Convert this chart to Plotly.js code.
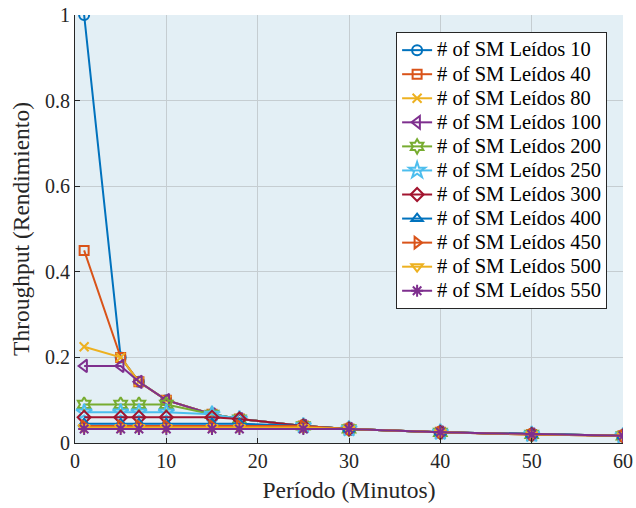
<!DOCTYPE html>
<html>
<head>
<meta charset="utf-8">
<script src="https://cdn.plot.ly/plotly-3.0.1.min.js"></script>
<style>
html,body{margin:0;padding:0;background:#fff;}
#chart{width:636px;height:508px;}
</style>
</head>
<body>
<div id="chart"></div>
<script>
// Period (minutes)
const periods = [1, 5, 7, 10, 15, 18, 25, 30, 40, 50, 60];
const seriesNames = ["# of SM Leídos 10", "# of SM Leídos 40", "# of SM Leídos 80", "# of SM Leídos 100",
  "# of SM Leídos 200", "# of SM Leídos 250", "# of SM Leídos 300", "# of SM Leídos 400",
  "# of SM Leídos 450", "# of SM Leídos 500", "# of SM Leídos 550"];
const sm10  = [1.0,   0.2,   0.143, 0.1,   0.067, 0.056, 0.04,  0.033, 0.025, 0.02, 0.0167];
const sm40  = [0.45,  0.2,   0.143, 0.1,   0.067, 0.056, 0.04,  0.033, 0.025, 0.02, 0.0167];
const sm80  = [0.225, 0.2,   0.143, 0.1,   0.067, 0.056, 0.04,  0.033, 0.025, 0.02, 0.0167];
const sm100 = [0.18,  0.18,  0.143, 0.1,   0.067, 0.056, 0.04,  0.033, 0.025, 0.02, 0.0167];
const sm200 = [0.09,  0.09,  0.09,  0.09,  0.067, 0.056, 0.04,  0.033, 0.025, 0.02, 0.0167];
const sm250 = [0.072, 0.072, 0.072, 0.072, 0.067, 0.056, 0.04,  0.033, 0.025, 0.02, 0.0167];
const sm300 = [0.06,  0.06,  0.06,  0.06,  0.06,  0.056, 0.04,  0.033, 0.025, 0.02, 0.0167];
const sm400 = [0.045, 0.045, 0.045, 0.045, 0.045, 0.045, 0.04,  0.033, 0.025, 0.02, 0.0167];
const sm450 = [0.04,  0.04,  0.04,  0.04,  0.04,  0.04,  0.04,  0.033, 0.025, 0.02, 0.0167];
const sm500 = [0.036, 0.036, 0.036, 0.036, 0.036, 0.036, 0.036, 0.033, 0.025, 0.02, 0.0167];
const sm550 = [0.0327,0.0327,0.0327,0.0327,0.0327,0.0327,0.0327,0.0327,0.025, 0.02, 0.0167];
const seriesValues = [sm10, sm40, sm80, sm100, sm200, sm250, sm300, sm400, sm450, sm500, sm550];

const colors = ["#0072BD", "#D95319", "#EDB120", "#7E2F8E", "#77AC30", "#4DBEEE", "#A2142F",
  "#0072BD", "#D95319", "#EDB120", "#7E2F8E"];
const symbols = ["circle-open", "square-open", "x-thin-open", "triangle-left-open", "hexagram-open",
  "star-open", "diamond-open", "triangle-up-open", "triangle-right-open", "triangle-down-open", "asterisk-open"];
const sizes = [10, 9, 9, 11, 11, 12, 10, 10, 10, 10, 10];

const traces = seriesValues.map((v, i) => ({
  x: periods, y: v, type: "scatter", mode: "lines+markers",
  name: '<span style="font-size:20.5px">' + seriesNames[i] + '</span>',
  line: {color: colors[i], width: 2},
  marker: {symbol: symbols[i], size: sizes[i], color: colors[i], line: {color: colors[i], width: 2}}
}));

const FAM = "Liberation Serif";
const layout = {
  width: 636, height: 508,
  margin: {l: 75, r: 13, t: 15, b: 65},
  paper_bgcolor: "#ffffff", plot_bgcolor: "#E3EFF5",
  font: {family: FAM, size: 20, color: "#262626"},
  showlegend: true,
  legend: {x: 0.971, y: 0.960, xanchor: "right", yanchor: "top", bgcolor: "#ffffff",
    bordercolor: "#262626", borderwidth: 1, font: {family: FAM, size: 16.2, color: "#000"}},
  xaxis: {range: [0, 60], tickvals: [0, 10, 20, 30, 40, 50, 60], ticks: "inside", ticklen: 5,
    tickcolor: "#262626", showline: true, linecolor: "#262626", linewidth: 1, mirror: false,
    tickfont: {family: FAM, size: 20, color: "#262626"},
    showgrid: true, gridcolor: "#C5CDD1", zeroline: false,
    title: {text: "Período (Minutos)", font: {family: FAM, size: 23.5, color: "#262626"}, standoff: 10}},
  yaxis: {range: [0, 1], tickvals: [0, 0.2, 0.4, 0.6, 0.8, 1], ticktext: ["0", "0.2", "0.4", "0.6", "0.8", "1"],
    ticks: "inside", ticklen: 5, tickcolor: "#262626", showline: true, linecolor: "#262626", linewidth: 1,
    tickfont: {family: FAM, size: 20, color: "#262626"},
    showgrid: true, gridcolor: "#C5CDD1", zeroline: false,
    title: {text: "Throughput (Rendimiento)", font: {family: FAM, size: 23.5, color: "#262626"}, standoff: 8}}
};
Plotly.newPlot("chart", traces, layout, {displayModeBar: false});
</script>
</body>
</html>
